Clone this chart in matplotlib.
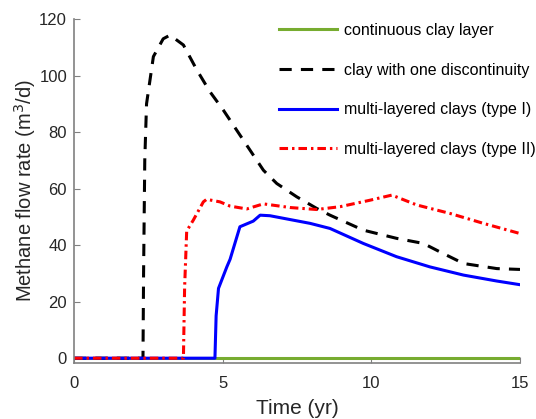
import matplotlib
matplotlib.use('Agg')
import matplotlib.pyplot as plt

plt.rcParams['font.family'] = ['Liberation Sans', 'DejaVu Sans']

# continuous clay layer
t_cont = [0, 15]
q_cont = [0, 0]

# clay with one discontinuity
t_disc = [0, 2.32, 2.34, 2.38, 2.44, 2.67, 3.0, 3.23, 3.68, 4.13, 4.57, 5.02, 5.47, 5.92, 6.37, 6.82, 7.49, 8.16,
          8.61, 9.73, 10.85, 11.75, 12.31, 13.1, 14.22, 15.0]
q_disc = [0, 0, 30, 70, 90, 106.7, 113, 114.3, 110.8, 102, 94.3, 87.8, 80.7, 73.6, 66.5, 61.8, 57.1, 53,
          50.6, 45.3, 42.4, 40.6, 37.6, 33.5, 31.7, 31.4]

# multi-layered clays (type I)
t_m1 = [0, 4.74, 4.78, 4.86, 5.14, 5.25, 5.58, 6.03, 6.26, 6.59, 7.94, 8.61, 9.73, 10.85, 11.97, 13.1, 14.22, 15.0]
q_m1 = [0, 0, 15, 24.7, 32.3, 35, 46.5, 48.5, 50.6, 50.4, 47.7, 45.9, 40.6, 35.9, 32.3, 29.4, 27.3, 26.0]

# multi-layered clays (type II)
t_m2 = [0, 3.68, 3.72, 3.79, 4.01, 4.35, 4.46, 4.91, 5.25, 5.81, 6.37, 7.27, 8.16, 8.95, 9.96, 10.69, 11.53,
        12.65, 13.77, 15.0]
q_m2 = [0, 0, 25, 45, 48.8, 55.3, 56.2, 55.3, 53.8, 52.8, 54.6, 53.3, 52.6, 53.6, 55.9, 57.7, 54.2,
        51.2, 47.7, 44.1]

fig = plt.figure(figsize=(5.36, 4.19), dpi=100)
ax = fig.add_axes([74 / 536, 56 / 419, 446 / 536, 344 / 419])

ax.plot(t_cont, q_cont, color='#77ac30', lw=2.2, label='continuous clay layer')
ax.plot(t_disc, q_disc, color='black', lw=2.2, ls=(0, (4, 3)), label='clay with one discontinuity')
ax.plot(t_m1, q_m1, color='blue', lw=2.2, label='multi-layered clays (type I)')
ax.plot(t_m2, q_m2, color='red', lw=2.2, ls=(0, (2.8, 1.3, 0.8, 1.3)), label='multi-layered clays (type II)')

ax.set_xlim(0, 15)
ax.set_ylim(-1.7, 120)
ax.set_xticks([0, 5, 10, 15])
ax.set_yticks([0, 20, 40, 60, 80, 100, 120])
ax.set_xlabel('Time (yr)', fontsize=15, color='#262626', labelpad=6)
ax.set_ylabel('Methane flow rate (m$^3$/d)', fontsize=14.5, color='#262626', labelpad=1)
ax.tick_params(labelsize=12, direction='in', color='#808080', length=4, labelcolor='#262626')
ax.tick_params(axis='x', pad=9)
ax.tick_params(axis='y', pad=5)
for s in ['top', 'right']:
    ax.spines[s].set_visible(False)
for s in ['left', 'bottom']:
    ax.spines[s].set_color('#808080')
    ax.spines[s].set_linewidth(1.2)

ax.legend(loc='upper right', frameon=False, fontsize=11.5, handlelength=3.67, handletextpad=0.4,
          labelspacing=1.54, bbox_to_anchor=(1.067, 1.03))

fig.savefig('out.png')
